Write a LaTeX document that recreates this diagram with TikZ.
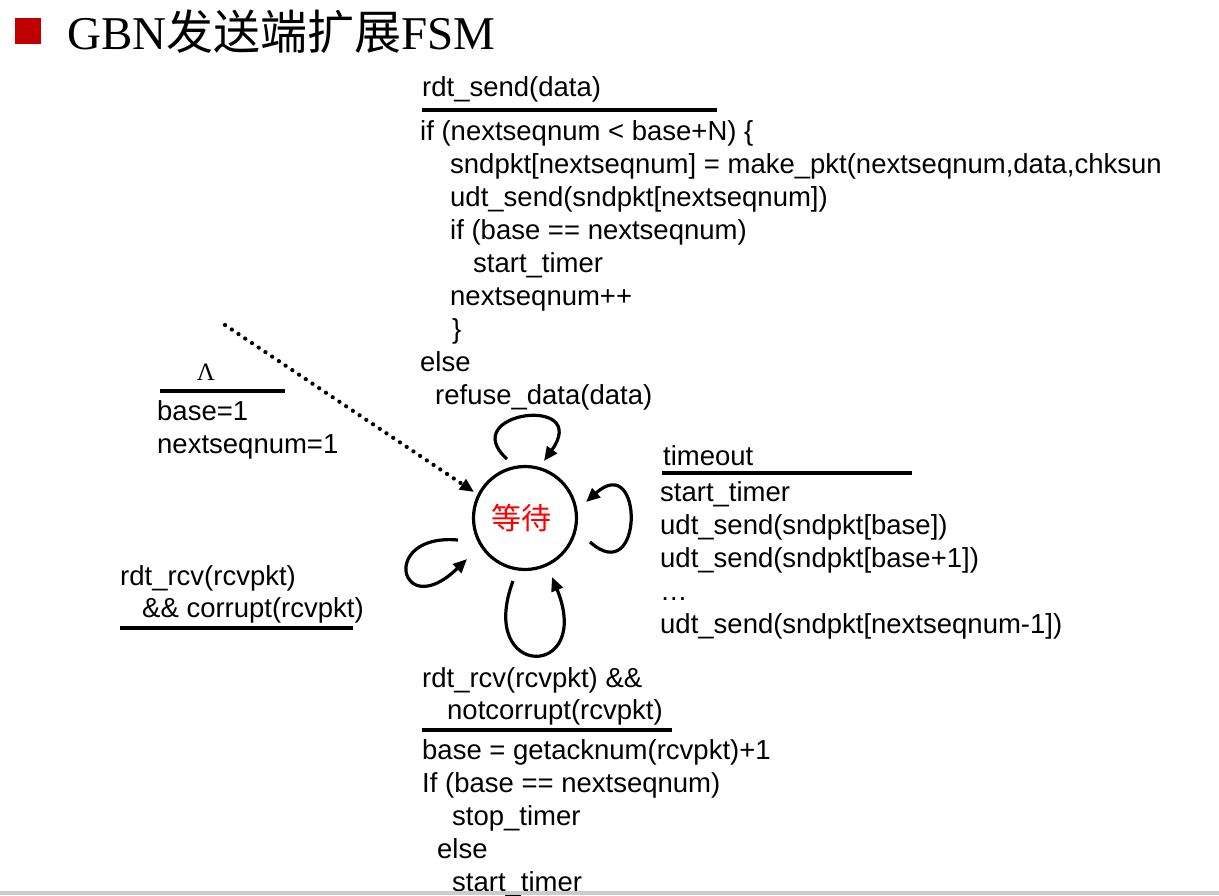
\documentclass[tikz,border=0pt]{standalone}
\usepackage{fontspec}
\setmainfont{Liberation Serif}
\newfontfamily\arial{Liberation Sans}
\newfontfamily\cjk{Noto Sans CJK SC}
\usetikzlibrary{arrows.meta}
\definecolor{bulletred}{HTML}{C00000}
\definecolor{barGray}{HTML}{CCCCCC}
\begin{document}
\begin{tikzpicture}[x=1pt,y=-1pt,
  txt/.style={anchor=base west, inner sep=0pt, font=\arial\fontsize{27.5}{33}\selectfont},
  rule/.style={line width=3.4pt},
  selfloop/.style={line width=3.2pt, -{Triangle[length=14pt,width=12pt]}},
  init/.style={line width=4.2pt, line cap=round, dash pattern=on 0.1pt off 8pt, -{Triangle[length=14pt,width=12pt]}},
  statenode/.style={circle, draw, line width=3.2pt, minimum size=103pt, inner sep=0pt}]
\useasboundingbox (0,0) rectangle (1219,895);
\fill[white] (0,0) rectangle (1219,895);
% title
\fill[bulletred] (15,18) rectangle (41,44);
\node[anchor=base west, inner sep=0pt, font=\fontsize{47}{56}\selectfont] (title) at (67,49) {GBN{\cjk 发送端扩展}FSM};
% state
\node[statenode] (s) at (525,518) {};
\node[inner sep=0pt, text=red, font=\cjk\fontsize{30}{34}\selectfont] (slabel) at (521,518) {等待};
% initial
\coordinate (i0) at (225,325);
\coordinate (i1) at (474,492);
\draw[init] (i0) -- (i1);
\node[anchor=base, inner sep=0pt, font=\fontsize{25}{30}\selectfont] (lam) at (206,380) {Λ};
\draw[rule] (160,391) -- (285,391);
\node[txt] (b1) at (157,420) {base=1};
\node[txt] (b2) at (157,453) {nextseqnum=1};
% top transition
\node[txt] (t0) at (422,96) {rdt\_send(data)};
\draw[rule] (422,110) -- (717,110);
\node[txt] (t1) at (420,140) {if (nextseqnum < base+N) \{};
\node[txt] (t2) at (450,173) {sndpkt[nextseqnum] = make\_pkt(nextseqnum,data,chksun};
\node[txt] (t3) at (450,206) {udt\_send(sndpkt[nextseqnum])};
\node[txt] (t4) at (450,239) {if (base == nextseqnum)};
\node[txt] (t5) at (473,272) {start\_timer};
\node[txt] (t6) at (450,305) {nextseqnum++};
\node[txt] (t7) at (452,338) {\}};
\node[txt] (t8) at (420,371) {else};
\node[txt] (t9) at (435,404) {refuse\_data(data)};
% right transition
\node[txt] (r0) at (663,465) {timeout};
\draw[rule] (662,473) -- (912,473);
\node[txt] (r1) at (660,501) {start\_timer};
\node[txt] (r2) at (660,534) {udt\_send(sndpkt[base])};
\node[txt] (r3) at (660,567) {udt\_send(sndpkt[base+1])};
\node[txt] (r4) at (660,600) {…};
\node[txt] (r5) at (660,633) {udt\_send(sndpkt[nextseqnum-1])};
% left transition
\node[txt] (l0) at (120,585) {rdt\_rcv(rcvpkt)};
\node[txt] (l1) at (142,617) {\&\& corrupt(rcvpkt)};
\draw[rule] (120,628) -- (353,628);
% bottom transition
\node[txt] (d0) at (422,687) {rdt\_rcv(rcvpkt) \&\&};
\node[txt] (d1) at (447,719) {notcorrupt(rcvpkt)};
\draw[rule] (422,730) -- (672,730);
\node[txt] (d2) at (422,759) {base = getacknum(rcvpkt)+1};
\node[txt] (d3) at (422,792) {If (base == nextseqnum)};
\node[txt] (d4) at (452,825) {stop\_timer};
\node[txt] (d5) at (437,858) {else};
\node[txt] (d6) at (452,891) {start\_timer};
% self loops
\coordinate (ta) at (507,459); \coordinate (tb) at (544,461);
\draw[selfloop] (ta) .. controls (455,412) and (592,394) .. (tb);
\coordinate (ra) at (590,542); \coordinate (rb) at (586,502);
\draw[selfloop] (ra) .. controls (644,590) and (644,450) .. (rb);
\coordinate (la) at (458,540); \coordinate (lb) at (467,559);
\draw[selfloop] (la) .. controls (378,533) and (400,624) .. (lb);
\coordinate (ba) at (513,581); \coordinate (bb) at (552,577);
\draw[selfloop] (ba) .. controls (476,680) and (594,680) .. (bb);
% bottom bar
\fill[barGray] (0,891) rectangle (1219,895);
\end{tikzpicture}
\end{document}
